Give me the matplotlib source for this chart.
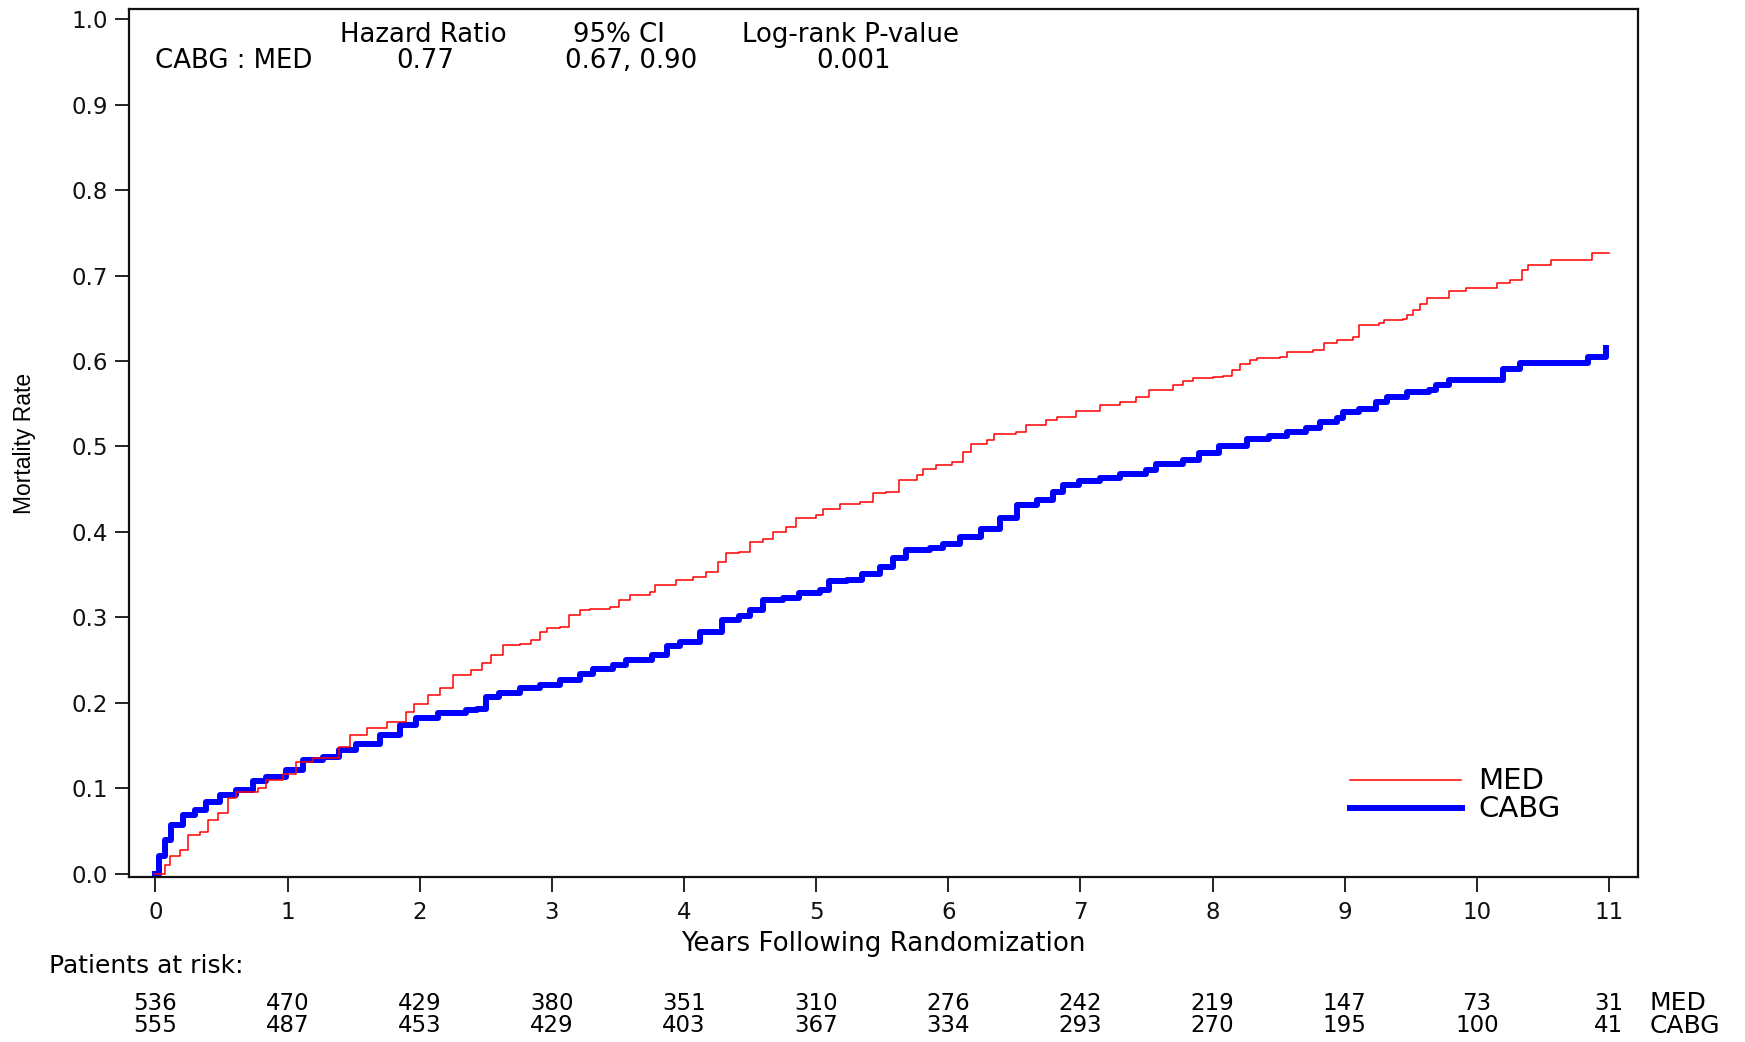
import matplotlib
matplotlib.use("Agg")
import matplotlib.pyplot as plt
from matplotlib.lines import Line2D
from matplotlib import transforms

# ---------------- data ----------------
med_points = [(0, 0), (0.07, 0.010), (0.107, 0.020), (0.183, 0.028), (0.246, 0.045), (0.335, 0.049),
              (0.40, 0.063), (0.47, 0.071), (0.55, 0.088), (0.61, 0.096), (0.78, 0.100), (0.84, 0.110),
              (0.965, 0.117), (1.066, 0.131), (1.19, 0.135), (1.39, 0.148), (1.47, 0.162), (1.60, 0.170),
              (1.75, 0.178), (1.90, 0.189), (1.96, 0.199), (2.06, 0.209), (2.15, 0.217), (2.25, 0.232),
              (2.39, 0.238), (2.47, 0.246), (2.54, 0.256), (2.63, 0.267), (2.76, 0.269), (2.84, 0.273),
              (2.91, 0.283), (2.96, 0.287), (3.06, 0.289), (3.13, 0.303), (3.21, 0.308), (3.29, 0.310),
              (3.44, 0.312), (3.51, 0.320), (3.59, 0.326), (3.74, 0.330), (3.78, 0.338), (3.94, 0.344),
              (4.07, 0.347), (4.17, 0.353), (4.26, 0.365), (4.32, 0.375), (4.42, 0.377), (4.50, 0.388),
              (4.60, 0.392), (4.67, 0.400), (4.77, 0.406), (4.85, 0.416), (5.00, 0.420), (5.05, 0.427),
              (5.18, 0.433), (5.33, 0.435), (5.43, 0.445), (5.53, 0.447), (5.63, 0.461), (5.76, 0.466),
              (5.81, 0.474), (5.91, 0.478), (6.03, 0.482), (6.11, 0.494), (6.17, 0.503), (6.29, 0.507),
              (6.35, 0.515), (6.51, 0.517), (6.59, 0.525), (6.74, 0.531), (6.82, 0.535), (6.97, 0.542),
              (7.15, 0.548), (7.30, 0.552), (7.42, 0.558), (7.52, 0.566), (7.70, 0.572), (7.78, 0.576),
              (7.85, 0.580), (8.00, 0.581), (8.08, 0.583), (8.15, 0.589), (8.21, 0.597), (8.28, 0.601),
              (8.34, 0.604), (8.51, 0.605), (8.56, 0.611), (8.76, 0.613), (8.84, 0.621), (8.94, 0.624),
              (9.06, 0.628), (9.11, 0.642), (9.26, 0.644), (9.30, 0.648), (9.44, 0.649), (9.47, 0.654),
              (9.52, 0.660), (9.57, 0.667), (9.62, 0.674), (9.79, 0.682), (9.92, 0.686), (10.15, 0.691),
              (10.25, 0.695), (10.34, 0.706), (10.39, 0.712), (10.56, 0.718), (10.87, 0.726), (11.0, 0.726)]

cabg_points = [(0, 0), (0.03, 0.020), (0.07, 0.039), (0.12, 0.057), (0.21, 0.069), (0.30, 0.074),
               (0.385, 0.084), (0.486, 0.092), (0.61, 0.098), (0.74, 0.108), (0.84, 0.113), (0.99, 0.121),
               (1.12, 0.133), (1.27, 0.137), (1.39, 0.145), (1.52, 0.152), (1.70, 0.162), (1.85, 0.174),
               (1.97, 0.182), (2.14, 0.188), (2.35, 0.191), (2.43, 0.193), (2.50, 0.207), (2.60, 0.211),
               (2.76, 0.217), (2.91, 0.221), (3.06, 0.227), (3.21, 0.234), (3.31, 0.240), (3.46, 0.244),
               (3.56, 0.250), (3.76, 0.256), (3.87, 0.266), (3.97, 0.271), (4.12, 0.283), (4.29, 0.297),
               (4.42, 0.301), (4.50, 0.308), (4.60, 0.320), (4.75, 0.322), (4.87, 0.328), (5.03, 0.332),
               (5.10, 0.342), (5.23, 0.344), (5.35, 0.351), (5.48, 0.359), (5.58, 0.369), (5.68, 0.379),
               (5.86, 0.381), (5.96, 0.386), (6.09, 0.394), (6.25, 0.403), (6.39, 0.416), (6.52, 0.431),
               (6.67, 0.437), (6.79, 0.447), (6.87, 0.455), (6.99, 0.459), (7.15, 0.463), (7.30, 0.468),
               (7.50, 0.472), (7.57, 0.480), (7.78, 0.484), (7.90, 0.492), (8.05, 0.500), (8.26, 0.509),
               (8.43, 0.512), (8.56, 0.517), (8.71, 0.521), (8.81, 0.529), (8.94, 0.533), (8.99, 0.540),
               (9.11, 0.544), (9.24, 0.552), (9.32, 0.558), (9.47, 0.564), (9.64, 0.566), (9.69, 0.572),
               (9.79, 0.578), (10.20, 0.591), (10.33, 0.598), (10.84, 0.605), (10.98, 0.615)]

x_ticks = list(range(0, 12))
y_ticks = [0.0, 0.1, 0.2, 0.3, 0.4, 0.5, 0.6, 0.7, 0.8, 0.9, 1.0]
risk_med = [536, 470, 429, 380, 351, 310, 276, 242, 219, 147, 73, 31]
risk_cabg = [555, 487, 453, 429, 403, 367, 334, 293, 270, 195, 100, 41]
header_cols = ["Hazard Ratio", "95% CI", "Log-rank P-value"]
header_vals = ["0.77", "0.67, 0.90", "0.001"]
header_row = "CABG : MED"

# ---------------- style ----------------
DV = ["DejaVu Sans"]
NARROW = ["Liberation Sans", "DejaVu Sans"]
W, H = 1745, 1042
fig = plt.figure(figsize=(W / 100, H / 100), dpi=100)
ax = fig.add_axes([129 / W, 1 - 877 / H, (1638 - 129) / W, (877 - 9) / H])

med_t, med_v = zip(*med_points)
cabg_t, cabg_v = zip(*cabg_points)
ax.plot(med_t, med_v, drawstyle="steps-post", color="#ff0000", lw=1.1, zorder=3)
ax.plot(cabg_t, cabg_v, drawstyle="steps-post", color="#0000ff", lw=4.3, zorder=2)

ax.set_xlim(-0.2, 11.22)
ax.set_ylim(-0.004, 1.012)
ax.set_xticks(x_ticks)
ax.set_yticks(y_ticks)
ax.set_xticklabels([str(v) for v in x_ticks], family=DV, fontsize=16.5)
ax.set_yticklabels([f"{v:.1f}" for v in y_ticks], family=DV, fontsize=16.5)
ax.tick_params(axis="x", direction="out", length=11, width=1.3, pad=6, colors="#111111")
ax.tick_params(axis="y", direction="out", length=10, width=1.3, pad=5, colors="#111111")
for s in ax.spines.values():
    s.set_linewidth(1.6)
    s.set_color("#111111")

def fx(px):
    return px / W

def fy(py):
    return 1 - py / H

# header table
for lab, xc in zip(header_cols, [423, 619, 850]):
    fig.text(fx(xc), fy(35), lab, ha="center", va="center", family=DV, fontsize=18.7)
fig.text(fx(234), fy(61), header_row, ha="center", va="center", family=DV, fontsize=18.7)
for lab, xc in zip(header_vals, [425, 631, 854]):
    fig.text(fx(xc), fy(61), lab, ha="center", va="center", family=DV, fontsize=18.7)

# legend
fig.add_artist(Line2D([fx(1350), fx(1461)], [fy(780), fy(780)], color="#ff0000", lw=1.1))
fig.add_artist(Line2D([fx(1350), fx(1462)], [fy(808), fy(808)], color="#0000ff", lw=4.3))
fig.text(fx(1478), fy(781), "MED", ha="left", va="center", family=DV, fontsize=21)
fig.text(fx(1478), fy(809), "CABG", ha="left", va="center", family=DV, fontsize=21)

# axis labels
fig.text(fx(883), fy(944), "Years Following Randomization", ha="center", va="center",
         family=DV, fontsize=18.8)
fig.text(fx(24), fy(443), "Mortality Rate", ha="center", va="center", rotation=90,
         family=NARROW, fontsize=16.5)

# at-risk table
fig.text(fx(49), fy(966), "Patients at risk:", ha="left", va="center", family=DV, fontsize=18)
trans = transforms.blended_transform_factory(ax.transData, fig.transFigure)
for xv, m, c in zip(x_ticks, risk_med, risk_cabg):
    ax.text(xv, fy(1003), str(m), transform=trans, ha="center", va="center",
            family=DV, fontsize=16.5, clip_on=False)
    ax.text(xv, fy(1026), str(c), transform=trans, ha="center", va="center",
            family=DV, fontsize=16.5, clip_on=False)
fig.text(fx(1650), fy(1003), "MED", ha="left", va="center", family=DV, fontsize=18)
fig.text(fx(1650), fy(1026), "CABG", ha="left", va="center", family=DV, fontsize=18)

fig.savefig("out.png", dpi=100, facecolor="white")
